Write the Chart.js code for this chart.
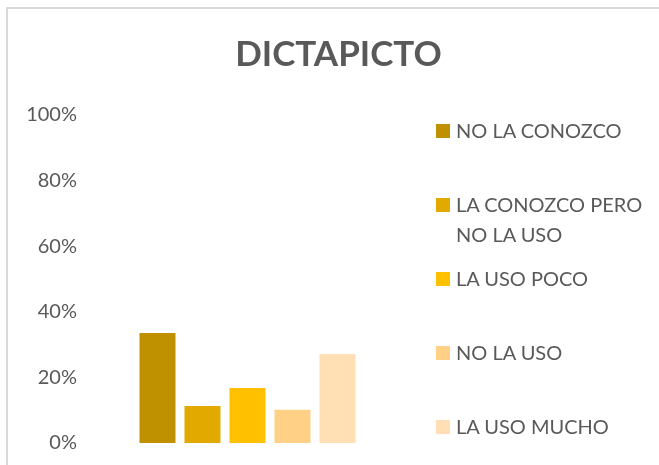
<!DOCTYPE html>
<html>
<head>
<meta charset="utf-8">
<script src="https://cdn.jsdelivr.net/npm/chart.js@4/dist/chart.umd.min.js"></script>
<style>
    html, body {
        margin: 0;
        padding: 0;
        width: 659px;
        height: 465px;
        overflow: hidden;
        background: #fff;
    }
    #frame {
        position: absolute;
        left: 6px;
        top: 7px;
        width: 700px;
        height: 500px;
        border-left: 2px solid #d9d9d9;
        border-top: 2px solid #d9d9d9;
    }
    #chart {
        position: absolute;
        left: 6px;
        top: 8px;
    }
    #legend {
        position: absolute;
        left: 436px;
        top: 115px;
        font-family: Lato, sans-serif;
        font-size: 20px;
        color: #595959;
    }
    .item {
        height: 74px;
        display: flex;
        align-items: flex-start;
    }
    .swatch {
        width: 14px;
        height: 14px;
        margin-top: 9px;
        margin-right: 6px;
        flex: none;
    }
    .text {
        width: 200px;
        line-height: 30px;
    }
</style>
</head>
<body>
<div id="frame"></div>
<canvas id="chart" width="665" height="460"></canvas>
<div id="legend"></div>

<script>
const chartTitle = "DICTAPICTO";
const categories = [""];
const seriesNames = ["NO LA CONOZCO", "LA CONOZCO PERO NO LA USO", "LA USO POCO", "NO LA USO", "LA USO MUCHO"];
const seriesValues = [33.5, 11.3, 16.8, 10.1, 27.1];
const seriesColors = ["#bf9000", "#e2aa00", "#ffc000", "#ffd086", "#ffdfb3"];
const yTicks = [0, 20, 40, 60, 80, 100];

Chart.defaults.font.family = "Lato";
Chart.defaults.color = "#595959";

// title centred on the whole frame, not on the plot area
const centeredTitle = {
    id: "centeredTitle",
    afterDraw(chart) {
        const ctx = chart.ctx;
        ctx.save();
        ctx.font = "bold 35px Lato";
        ctx.fillStyle = "#595959";
        ctx.textAlign = "center";
        ctx.textBaseline = "middle";
        ctx.fillText(chartTitle, chart.width / 2, 47);
        ctx.restore();
    }
};

const datasets = seriesNames.map((name, i) => ({
    label: name,
    data: [seriesValues[i]],
    backgroundColor: seriesColors[i],
    barPercentage: 0.8,
    categoryPercentage: 0.7143
}));

new Chart(document.getElementById("chart"), {
    type: "bar",
    data: {
        labels: categories,
        datasets: datasets
    },
    plugins: [centeredTitle],
    options: {
        responsive: false,
        animation: false,
        layout: {
            padding: { top: 107, left: 0, right: 266, bottom: 25 }
        },
        plugins: {
            legend: { display: false },
            tooltip: { enabled: false },
            title: { display: false }
        },
        scales: {
            x: {
                display: false
            },
            y: {
                min: yTicks[0],
                max: yTicks[yTicks.length - 1],
                afterFit(scale) {
                    scale.width = 84;
                },
                afterBuildTicks(scale) {
                    scale.ticks = yTicks.map(v => ({ value: v }));
                },
                grid: { display: false, drawTicks: false },
                border: { display: false },
                ticks: {
                    padding: 13,
                    font: { size: 20 },
                    color: "#595959",
                    callback: v => v + "%"
                }
            }
        }
    }
});

const legend = document.getElementById("legend");
seriesNames.forEach((name, i) => {
    const item = document.createElement("div");
    item.className = "item";
    item.innerHTML = '<div class="swatch" style="background:' + seriesColors[i] + '"></div><div class="text">' + name + '</div>';
    legend.appendChild(item);
});
</script>
</body>
</html>
